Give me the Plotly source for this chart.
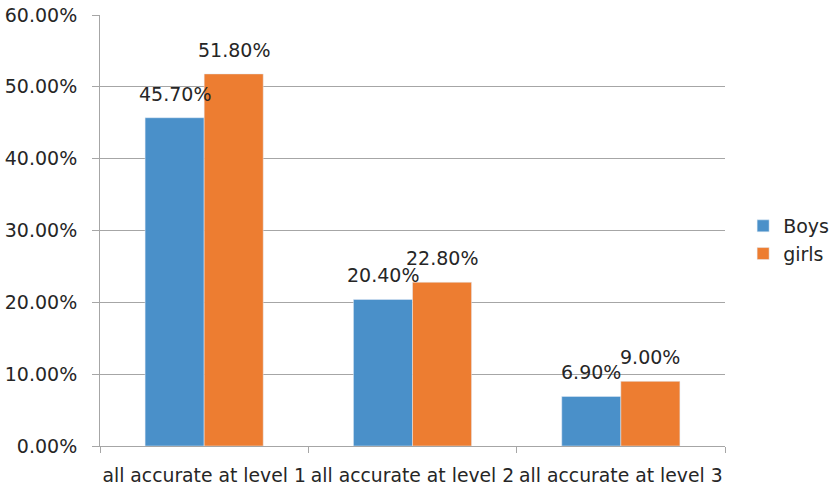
import plotly.graph_objects as go

categories = ["all accurate at level 1", "all accurate at level 2", "all accurate at level 3"]
boys = [0.457, 0.204, 0.069]
girls = [0.518, 0.228, 0.090]
y_ticks = [0, 0.1, 0.2, 0.3, 0.4, 0.5, 0.6]

FONT = "DejaVu Sans"
TEXT = "#262626"
GRID = "#a6a6a6"
SIZE = 19

fig = go.Figure()
fig.add_trace(go.Bar(name="Boys", x=categories, y=boys, marker_color="#4A90C9",
                     legendgroup="boys"))
fig.add_trace(go.Bar(name="girls", x=categories, y=girls, marker_color="#ED7D31",
                     legendgroup="girls"))

# value labels above each bar (bars are half a bar-width left/right of the category centre)
half_bar = 29.5
for values, shift in ((boys, -half_bar), (girls, half_bar)):
    for cat, v in zip(categories, values):
        fig.add_annotation(x=cat, y=v, text=f"{v*100:.2f}%", showarrow=False,
                           xanchor="center", yanchor="bottom",
                           xshift=shift, yshift=11,
                           font=dict(family=FONT, size=SIZE, color=TEXT))

fig.update_layout(
    width=832, height=491,
    margin=dict(l=100, r=107, t=15, b=45, autoexpand=False),
    paper_bgcolor="white", plot_bgcolor="white",
    barmode="group", bargap=0.433, bargroupgap=0,
    font=dict(family=FONT, size=SIZE, color=TEXT),
    legend=dict(x=1.029, y=0.478, xanchor="left", yanchor="middle",
                traceorder="grouped", tracegroupgap=0,
                font=dict(family=FONT, size=SIZE, color=TEXT),
                itemwidth=30),
    xaxis=dict(showline=True, linecolor=GRID, linewidth=1,
               ticks="outside", tickson="boundaries", ticklen=6,
               tickcolor=GRID, ticklabelstandoff=12, tickangle=0,
               tickfont=dict(family=FONT, size=18.8, color=TEXT)),
    yaxis=dict(range=[0, 0.6], tickvals=y_ticks, tickformat=".2%",
               showgrid=True, gridcolor=GRID, gridwidth=1,
               showline=True, linecolor=GRID, linewidth=1,
               ticks="outside", ticklen=7, tickcolor=GRID,
               ticklabelstandoff=11, zeroline=False,
               tickfont=dict(family=FONT, size=SIZE, color=TEXT)),
)

fig.write_html("out.html")
